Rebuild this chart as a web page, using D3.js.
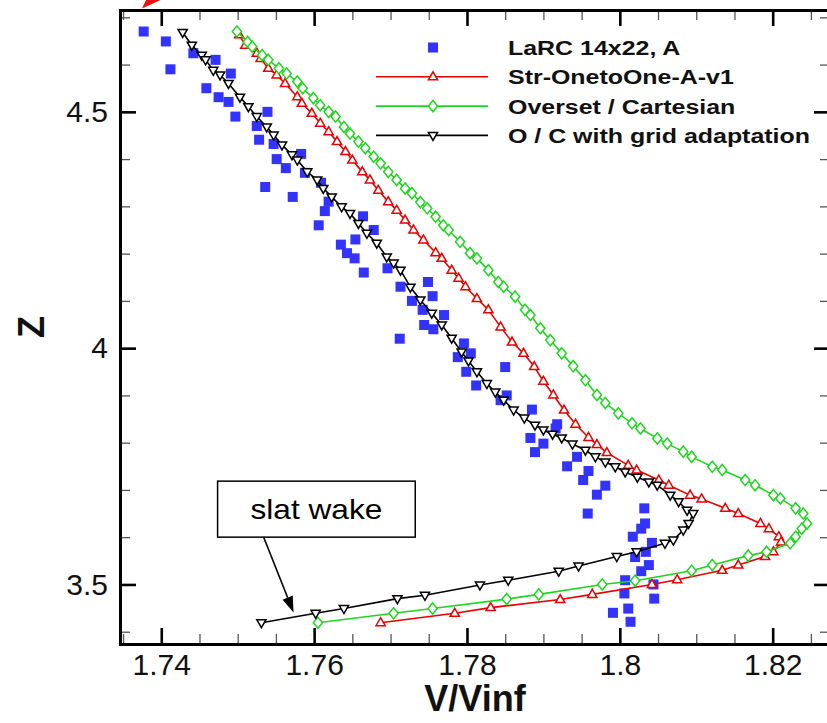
<!DOCTYPE html>
<html>
<head>
<meta charset="utf-8">
<script src="https://cdn.jsdelivr.net/npm/d3@7"></script>
<style>
  html, body { margin: 0; padding: 0; background: #fff; }
  svg { display: block; }
</style>
</head>
<body>
<svg id="chart" width="827" height="723"></svg>
<script>
// ---- data: velocity ratio V/Vinf against height Z ----
const seriesNames = ["LaRC 14x22, A", "Str-OnetoOne-A-v1", "Overset / Cartesian", "O / C with grid adaptation"];

// wind-tunnel measurements
const larcV = [1.7377,1.7406,1.7412,1.7442,1.7471,1.7491,1.7459,1.7475,1.7488,1.7497,
  1.7539,1.7525,1.7528,1.7547,1.7551,1.7563,1.7583,1.7588,1.7536,1.7572,
  1.7609,1.7619,1.7614,1.7606,1.7664,1.7678,1.7654,1.7635,1.7643,1.7653,
  1.7665,1.7696,1.7749,1.7713,1.7755,1.7728,1.7742,1.7770,1.7744,1.7756,
  1.7712,1.7796,1.7805,1.7788,1.7799,1.7850,1.7812,1.7852,1.7844,1.7885,
  1.7918,1.7916,1.7883,1.7900,1.7889,1.7944,1.7931,1.7959,1.7952,1.7981,
  1.7970,1.7958,1.8032,1.8033,1.8028,1.8017,1.8042,1.8034,1.8020,1.8038,
  1.8028,1.8007,1.8044,1.8006,1.8045,1.8011,1.7991,1.8014];
const larcZ = [4.670,4.649,4.590,4.624,4.610,4.581,4.550,4.531,4.521,4.490,
  4.500,4.470,4.441,4.432,4.400,4.381,4.411,4.371,4.341,4.320,
  4.350,4.310,4.290,4.260,4.279,4.250,4.230,4.219,4.201,4.190,
  4.160,4.169,4.140,4.130,4.110,4.100,4.081,4.070,4.049,4.040,
  4.020,4.010,3.989,3.981,3.950,3.960,3.921,3.900,3.890,3.870,
  3.839,3.830,3.810,3.798,3.780,3.770,3.750,3.740,3.721,3.709,
  3.690,3.650,3.661,3.629,3.618,3.601,3.588,3.569,3.558,3.541,
  3.528,3.509,3.500,3.481,3.470,3.449,3.440,3.421];

// structured one-to-one grid
const strV = [1.7502,1.7510,1.7525,1.7530,1.7540,1.7551,1.7562,1.7578,1.7584,1.7597,
  1.7608,1.7619,1.7630,1.7641,1.7650,1.7663,1.7673,1.7684,1.7697,1.7708,
  1.7719,1.7730,1.7743,1.7759,1.7767,1.7780,1.7789,1.7798,1.7813,1.7828,
  1.7844,1.7859,1.7874,1.7888,1.7900,1.7913,1.7927,1.7942,1.7959,1.7970,
  1.7983,1.8011,1.8022,1.8051,1.8064,1.8092,1.8107,1.8138,1.8155,1.8184,
  1.8195,1.8208,1.8211,1.8201,1.8190,1.8155,1.8134,1.8075,1.8042,1.7964,
  1.7922,1.7831,1.7784,1.7687];
const strZ = [4.663,4.641,4.624,4.613,4.592,4.578,4.560,4.532,4.518,4.497,
  4.476,4.458,4.437,4.416,4.398,4.373,4.356,4.334,4.310,4.292,
  4.271,4.250,4.229,4.202,4.190,4.165,4.148,4.130,4.105,4.081,
  4.045,4.013,3.989,3.961,3.930,3.901,3.869,3.839,3.811,3.796,
  3.779,3.752,3.742,3.721,3.710,3.689,3.681,3.661,3.650,3.629,
  3.618,3.601,3.590,3.569,3.559,3.541,3.530,3.510,3.500,3.479,
  3.468,3.451,3.439,3.419];

// overset / Cartesian grid
const ovsV = [1.7499,1.7513,1.7519,1.7532,1.7540,1.7554,1.7564,1.7578,1.7585,1.7599,
  1.7608,1.7619,1.7628,1.7639,1.7647,1.7658,1.7667,1.7678,1.7687,1.7697,
  1.7708,1.7719,1.7728,1.7739,1.7748,1.7759,1.7769,1.7776,1.7791,1.7804,
  1.7813,1.7828,1.7841,1.7848,1.7863,1.7876,1.7883,1.7896,1.7909,1.7924,
  1.7939,1.7955,1.7970,1.7981,1.7998,1.8016,1.8027,1.8049,1.8062,1.8083,
  1.8094,1.8121,1.8134,1.8164,1.8177,1.8201,1.8210,1.8230,1.8240,1.8245,
  1.8238,1.8230,1.8223,1.8192,1.8168,1.8121,1.8094,1.8020,1.7977,1.7894,
  1.7852,1.7755,1.7704,1.7605];
const ovsZ = [4.670,4.648,4.638,4.620,4.610,4.592,4.581,4.564,4.550,4.529,
  4.514,4.500,4.490,4.468,4.454,4.437,4.423,4.405,4.391,4.373,
  4.356,4.338,4.328,4.309,4.296,4.278,4.260,4.250,4.225,4.201,
  4.190,4.165,4.140,4.130,4.109,4.081,4.070,4.042,4.017,3.989,
  3.962,3.932,3.901,3.884,3.862,3.841,3.830,3.809,3.798,3.781,
  3.770,3.749,3.742,3.721,3.710,3.689,3.682,3.661,3.650,3.629,
  3.618,3.601,3.587,3.569,3.561,3.541,3.529,3.508,3.500,3.479,
  3.469,3.449,3.439,3.419];

// overset / Cartesian with grid adaptation
const adaptV = [1.7428,1.7440,1.7453,1.7458,1.7468,1.7477,1.7488,1.7503,1.7514,1.7525,
  1.7538,1.7547,1.7558,1.7571,1.7578,1.7591,1.7604,1.7612,1.7623,1.7636,
  1.7647,1.7658,1.7669,1.7682,1.7695,1.7704,1.7713,1.7726,1.7739,1.7754,
  1.7767,1.7780,1.7793,1.7802,1.7813,1.7826,1.7837,1.7848,1.7861,1.7875,
  1.7889,1.7900,1.7912,1.7924,1.7938,1.7955,1.7968,1.7981,1.7994,1.8007,
  1.8023,1.8038,1.8049,1.8066,1.8077,1.8088,1.8096,1.8090,1.8083,1.8070,
  1.8059,1.8022,1.7996,1.7946,1.7920,1.7854,1.7817,1.7745,1.7709,1.7639,
  1.7602,1.7531];
const adaptZ = [4.668,4.641,4.620,4.610,4.588,4.578,4.560,4.531,4.511,4.490,
  4.468,4.451,4.430,4.409,4.398,4.373,4.356,4.338,4.320,4.299,
  4.285,4.264,4.243,4.222,4.193,4.180,4.165,4.129,4.102,4.074,
  4.049,4.021,3.992,3.973,3.950,3.925,3.907,3.890,3.869,3.852,
  3.837,3.827,3.818,3.810,3.797,3.784,3.770,3.759,3.749,3.738,
  3.727,3.717,3.710,3.689,3.675,3.657,3.650,3.629,3.615,3.594,
  3.587,3.569,3.559,3.539,3.528,3.509,3.499,3.477,3.470,3.449,
  3.439,3.419];

// axis ticks
const xMajorTicks = [1.74, 1.76, 1.78, 1.80, 1.82];
const xTickLabels = ["1.74", "1.76", "1.78", "1.8", "1.82"];
const xMinorTicks = [1.735, 1.745, 1.75, 1.755, 1.765, 1.77, 1.775, 1.785, 1.79, 1.795, 1.805, 1.81, 1.815, 1.825];
const yMajorTicks = [3.5, 4.0, 4.5];
const yTickLabels = ["3.5", "4", "4.5"];
const yMinorTicks = [3.4, 3.6, 3.7, 3.8, 3.9, 4.1, 4.2, 4.3, 4.4, 4.6, 4.7];

// ---- layout ----
const W = 827, H = 723;
const plot = { left: 120, right: 830, top: 10, bottom: 644 };
const colors = { larc: "#3333ff", str: "#e80000", ovs: "#1fd51f", adapt: "#000000" };
const FONT = "'Liberation Sans', Arial, Helvetica, sans-serif";

const x = d3.scaleLinear().domain([1.7346, 1.8275]).range([plot.left, plot.right]);
const y = d3.scaleLinear().domain([3.374, 4.7155]).range([plot.bottom, plot.top]);

const svg = d3.select("#chart");
svg.append("rect").attr("width", W).attr("height", H).attr("fill", "#fff");

// ---- marker shapes ----
const markerPath = {
  triUp:   "M0,-5 L4.6,3 L-4.6,3 Z",
  triDown: "M0,5 L4.6,-3 L-4.6,-3 Z",
  diamond: "M0,-5.6 L4.6,0 L0,5.6 L-4.6,0 Z"
};

// ---- axes (ticks point inward, mirrored on all four sides) ----
function styleAxis(g, withLabels) {
  g.attr("font-family", null).attr("font-size", null);
  g.select(".domain").attr("stroke", "#000").attr("stroke-width", 3).attr("stroke-linecap", "square");
  g.selectAll(".tick line").attr("stroke", "#000").attr("stroke-width", 2.6);
  if (withLabels) {
    g.selectAll(".tick text")
      .attr("fill", "#111")
      .style("font-family", FONT)
      .style("font-size", "30px");
  }
}
function minorAxis(g) {
  g.select(".domain").remove();
  g.selectAll(".tick line").attr("stroke", "#555").attr("stroke-width", 1.3);
}

const axesLayer = svg.append("g");

// minor ticks
axesLayer.append("g").attr("transform", `translate(0,${plot.bottom})`)
  .call(d3.axisBottom(x).tickValues(xMinorTicks).tickSizeInner(-10).tickSizeOuter(0).tickFormat(""))
  .call(minorAxis);
axesLayer.append("g").attr("transform", `translate(0,${plot.top})`)
  .call(d3.axisTop(x).tickValues(xMinorTicks).tickSizeInner(-10).tickSizeOuter(0).tickFormat(""))
  .call(minorAxis);
axesLayer.append("g").attr("transform", `translate(${plot.left},0)`)
  .call(d3.axisLeft(y).tickValues(yMinorTicks).tickSizeInner(-10).tickSizeOuter(0).tickFormat(""))
  .call(minorAxis);
axesLayer.append("g").attr("transform", `translate(${plot.right},0)`)
  .call(d3.axisRight(y).tickValues(yMinorTicks).tickSizeInner(-10).tickSizeOuter(0).tickFormat(""))
  .call(minorAxis);

// major ticks and frame
axesLayer.append("g").attr("transform", `translate(0,${plot.bottom})`)
  .call(d3.axisBottom(x).tickValues(xMajorTicks).tickSizeInner(-16).tickSizeOuter(0).tickPadding(10)
    .tickFormat((d, i) => xTickLabels[i]))
  .call(g => styleAxis(g, true));
axesLayer.append("g").attr("transform", `translate(0,${plot.top})`)
  .call(d3.axisTop(x).tickValues(xMajorTicks).tickSizeInner(-16).tickSizeOuter(0).tickFormat(""))
  .call(g => styleAxis(g, false));
axesLayer.append("g").attr("transform", `translate(${plot.left},0)`)
  .call(d3.axisLeft(y).tickValues(yMajorTicks).tickSizeInner(-16).tickSizeOuter(0).tickPadding(12)
    .tickFormat((d, i) => yTickLabels[i]))
  .call(g => styleAxis(g, true));
axesLayer.append("g").attr("transform", `translate(${plot.right},0)`)
  .call(d3.axisRight(y).tickValues(yMajorTicks).tickSizeInner(-16).tickSizeOuter(0).tickFormat(""))
  .call(g => styleAxis(g, false));

// axis titles
svg.append("text")
  .attr("x", (plot.left + plot.right) / 2).attr("y", 711)
  .attr("text-anchor", "middle")
  .style("font-family", FONT).style("font-weight", "bold").style("font-size", "36px")
  .attr("fill", "#111")
  .text("V/Vinf");
svg.append("text")
  .attr("transform", `translate(44,${(plot.top + plot.bottom) / 2}) rotate(-90)`)
  .attr("text-anchor", "middle")
  .style("font-family", FONT).style("font-weight", "bold").style("font-size", "36px")
  .attr("fill", "#111")
  .text("Z");

// ---- data marks ----
const zip = (vs, zs) => vs.map((v, i) => [v, zs[i]]);
const line = d3.line().x(d => x(d[0])).y(d => y(d[1]));
const marks = svg.append("g");

// measurements (filled squares)
marks.append("g").selectAll("rect")
  .data(zip(larcV, larcZ))
  .join("rect")
  .attr("x", d => x(d[0]) - 5).attr("y", d => y(d[1]) - 5)
  .attr("width", 10).attr("height", 10)
  .attr("fill", colors.larc);

function drawSeries(data, color, shape) {
  const g = marks.append("g");
  g.append("path").datum(data)
    .attr("d", line).attr("fill", "none")
    .attr("stroke", color).attr("stroke-width", 1.6).attr("stroke-linejoin", "round");
  g.selectAll("path.mk").data(data).join("path")
    .attr("class", "mk")
    .attr("d", markerPath[shape])
    .attr("transform", d => `translate(${x(d[0])},${y(d[1])})`)
    .attr("fill", "#fff").attr("stroke", color).attr("stroke-width", 1.5);
}
drawSeries(zip(strV, strZ), colors.str, "triUp");
drawSeries(zip(ovsV, ovsZ), colors.ovs, "diamond");
drawSeries(zip(adaptV, adaptZ), colors.adapt, "triDown");

// ---- legend ----
const legendRows = [
  { name: seriesNames[0], color: colors.larc, shape: "square" },
  { name: seriesNames[1], color: colors.str, shape: "triUp" },
  { name: seriesNames[2], color: colors.ovs, shape: "diamond" },
  { name: seriesNames[3], color: colors.adapt, shape: "triDown" }
];
const legend = svg.append("g");
legendRows.forEach((r, i) => {
  const base = 55 + i * 29.3;
  const cy = base - 7.5;
  const row = legend.append("g");
  if (r.shape === "square") {
    row.append("rect").attr("x", 433 - 5).attr("y", cy - 5).attr("width", 10).attr("height", 10).attr("fill", r.color);
  } else {
    row.append("line").attr("x1", 376).attr("x2", 488).attr("y1", cy).attr("y2", cy)
      .attr("stroke", r.color).attr("stroke-width", 1.6);
    row.append("path").attr("d", markerPath[r.shape]).attr("transform", `translate(433,${cy})`)
      .attr("fill", "#fff").attr("stroke", r.color).attr("stroke-width", 1.5);
  }
  row.append("text")
    .attr("transform", `translate(508,${base}) scale(1.28,1)`)
    .style("font-family", FONT).style("font-weight", "bold").style("font-size", "19.5px")
    .attr("fill", "#111")
    .text(r.name);
});

// ---- "slat wake" callout ----
const callout = { box: [1.74737, 1.77323, 3.7186, 3.6001], tail: [1.75338, 3.6007], head: [1.75731, 3.4407] };
const ann = svg.append("g");
const bx0 = x(callout.box[0]), bx1 = x(callout.box[1]), by0 = y(callout.box[2]), by1 = y(callout.box[3]);
ann.append("rect").attr("x", bx0).attr("y", by0).attr("width", bx1 - bx0).attr("height", by1 - by0)
  .attr("fill", "#fff").attr("stroke", "#000").attr("stroke-width", 1.5);
ann.append("text")
  .attr("transform", `translate(${(bx0 + bx1) / 2},${(by0 + by1) / 2 + 10}) scale(1.13,1)`)
  .attr("text-anchor", "middle")
  .style("font-family", FONT).style("font-size", "28px")
  .attr("fill", "#000")
  .text("slat wake");
{
  const tx = x(callout.tail[0]), ty = y(callout.tail[1]);
  const hx = x(callout.head[0]), hy = y(callout.head[1]);
  const ang = Math.atan2(hy - ty, hx - tx);
  const len = 16, half = 5.5;
  const bxp = hx - len * Math.cos(ang), byp = hy - len * Math.sin(ang);
  ann.append("line").attr("x1", tx).attr("y1", ty).attr("x2", bxp).attr("y2", byp)
    .attr("stroke", "#000").attr("stroke-width", 1.5);
  ann.append("path")
    .attr("d", `M${hx},${hy} L${bxp + half * Math.sin(ang)},${byp - half * Math.cos(ang)} L${bxp - half * Math.sin(ang)},${byp + half * Math.cos(ang)} Z`)
    .attr("fill", "#000");
}

// red pointer arrow entering at the top-left corner
svg.append("path").attr("d", "M142,8.5 L147,-2 L165,-2 Z").attr("fill", "#ee1111");
</script>
</body>
</html>
